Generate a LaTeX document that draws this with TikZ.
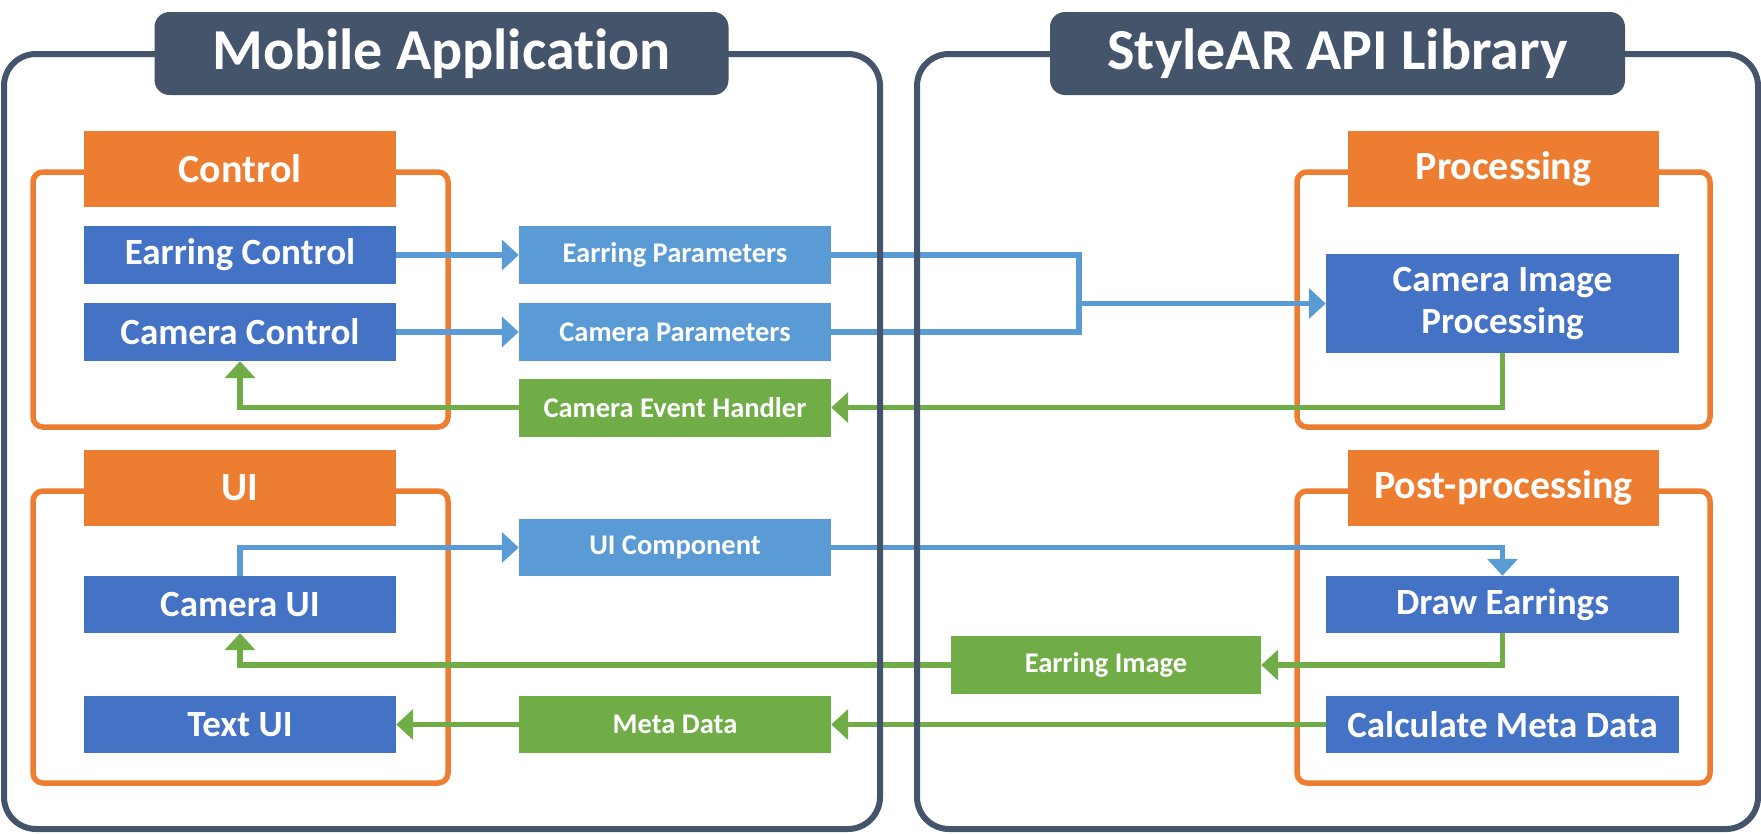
\documentclass[tikz,border=0pt]{standalone}
\usepackage{fontspec}
\setmainfont{Carlito}[Ligatures=NoCommon]
\usetikzlibrary{arrows.meta}

\definecolor{slate}{HTML}{44546A}
\definecolor{orng}{HTML}{ED7D31}
\definecolor{dblue}{HTML}{4472C4}
\definecolor{lblue}{HTML}{5B9BD5}
\definecolor{grn}{HTML}{70AD47}

\begin{document}
\begin{tikzpicture}[x=1pt, y=-1pt,
    every node/.style={align=center, text=white, inner sep=0pt},
    titlebox/.style={fill=slate, rounded corners=15pt, minimum width=574pt, minimum height=83pt, font=\bfseries\fontsize{58}{64}\selectfont},
    grouphead/.style={fill=orng, minimum width=312pt, minimum height=76pt, font=\bfseries\fontsize{40}{46}\selectfont},
    groupbox/.style={draw=orng, line width=5.5pt, rounded corners=10pt},
    outerbox/.style={draw=slate, line width=6pt, rounded corners=32pt},
    funcbox/.style={fill=dblue, minimum width=312pt, minimum height=58pt, font=\bfseries\fontsize{37}{42}\selectfont},
    databox/.style={minimum width=312pt, minimum height=58pt, font=\bfseries\fontsize{28.5}{32}\selectfont},
    flow/.style={line width=5.5pt, -{Triangle[length=17pt, width=30pt]}},
]
    \useasboundingbox (0,0) rectangle (1761,833);

    % group frames
    \draw[groupbox] (33,172) rectangle (448,427);
    \draw[groupbox] (33,491) rectangle (448,783);
    \draw[groupbox] (1297,172) rectangle (1710,427);
    \draw[groupbox] (1297,491) rectangle (1710,783);

    % mobile application side
    \node[grouphead] (ctlhead) at (240,169) {Control};
    \node[funcbox] (earringctl) at (240,255) {Earring Control};
    \node[funcbox] (cameractl) at (240,332) {Camera Control};
    \node[grouphead] (uihead) at (240,487.5) {UI};
    \node[funcbox, minimum height=57pt] (cameraui) at (240,604.5) {Camera UI};
    \node[funcbox, minimum height=57pt] (textui) at (240,724.5) {Text UI};

    % data in between
    \node[databox, fill=lblue] (earringpar) at (675,255) {Earring Parameters};
    \node[databox, fill=lblue] (camerapar) at (675,332) {Camera Parameters};
    \node[databox, fill=grn] (eventhdl) at (675,407.5) {Camera Event Handler};
    \node[databox, fill=lblue, minimum height=57pt] (uicomp) at (675,547.5) {UI Component};
    \node[databox, fill=grn, minimum height=57pt] (metadata) at (675,724.5) {Meta Data};
    \node[databox, fill=grn, minimum width=310pt] (earimg) at (1106,665) {Earring Image};

    % library side
    \node[grouphead, minimum width=311pt] (prochead) at (1503.5,169) {Processing};
    \node[funcbox, minimum width=353pt, minimum height=99pt] (camproc) at (1502.5,303.5) {Camera Image\\Processing};
    \node[grouphead, minimum width=311pt] (posthead) at (1503.5,487.5) {Post-processing};
    \node[funcbox, minimum width=353pt, minimum height=57pt] (drawear) at (1502.5,604.5) {Draw Earrings};
    \node[funcbox, minimum width=353pt, minimum height=57pt] (calcmeta) at (1502.5,724.5) {Calculate Meta Data};

    \coordinate (merge) at (1079,303.5);

    % blue flows
    \draw[flow, lblue] (earringctl) -- (earringpar);
    \draw[flow, lblue] (cameractl) -- (camerapar);
    \draw[line width=5.5pt, lblue] (earringpar.east) -| (merge) |- (camerapar.east);
    \draw[flow, lblue] (merge) -- (camproc.west);
    \draw[flow, lblue] (cameraui.north) |- (uicomp.west);
    \draw[flow, lblue] (uicomp.east) -| (drawear.north);

    % green flows
    \draw[flow, grn] (camproc.south) |- (eventhdl.east);
    \draw[flow, grn] (eventhdl.west) -| (cameractl.south);
    \draw[flow, grn] (drawear.south) |- (earimg.east);
    \draw[flow, grn] (earimg.west) -| (cameraui.south);
    \draw[flow, grn] (calcmeta) -- (metadata);
    \draw[flow, grn] (metadata) -- (textui);

    % outer frames and titles
    \draw[outerbox] (4,54) rectangle (880,829);
    \draw[outerbox] (917,54) rectangle (1758,829);
    \node[titlebox] (mobiletitle) at (441.5,53.5) {Mobile Application};
    \node[titlebox, minimum width=575pt] (apititle) at (1337.5,53.5) {StyleAR API Library};
\end{tikzpicture}
\end{document}
